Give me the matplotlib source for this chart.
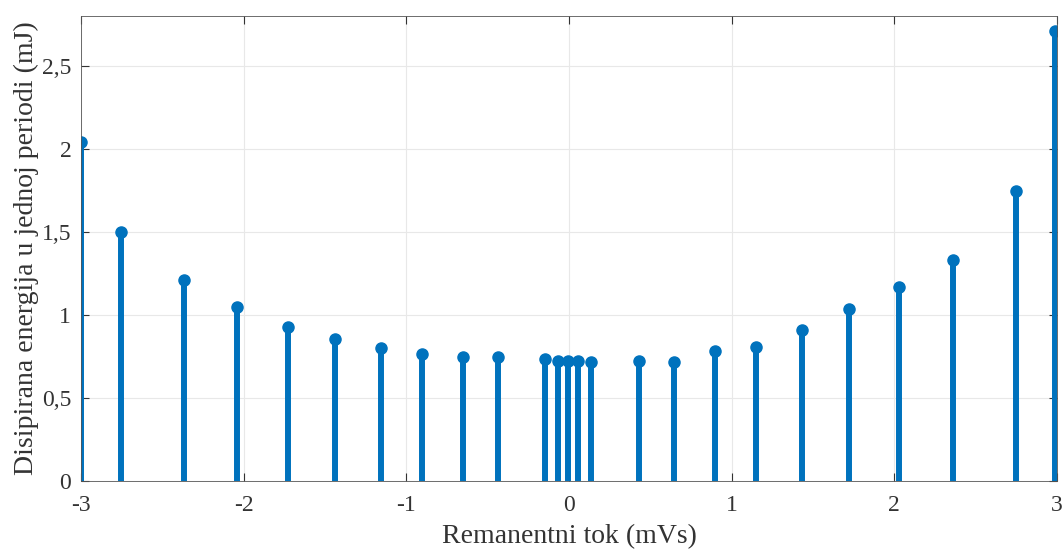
import numpy as np
import matplotlib.pyplot as plt
from matplotlib.ticker import FuncFormatter

# remanent flux (mVs) and dissipated energy per period (mJ)
flux = [-3.0, -2.754, -2.367, -2.04, -1.727, -1.438, -1.155, -0.903, -0.651, -0.436,
        -0.147, -0.068, -0.006, 0.055, 0.135, 0.43, 0.645, 0.897, 1.149, 1.432,
        1.72, 2.03, 2.36, 2.747, 2.99]
energy = [2.04, 1.50, 1.21, 1.05, 0.93, 0.855, 0.80, 0.765, 0.745, 0.745,
          0.735, 0.723, 0.723, 0.723, 0.717, 0.723, 0.717, 0.78, 0.807, 0.91,
          1.036, 1.17, 1.33, 1.747, 2.71]
xticks = [-3, -2, -1, 0, 1, 2, 3]
yticks = [0, 0.5, 1, 1.5, 2, 2.5]

plt.rcParams['font.family'] = ['Liberation Serif', 'DejaVu Serif']
blue = '#0072BD'
txt = '#333333'

fig = plt.figure(figsize=(10.63, 5.5), dpi=100)
ax = fig.add_axes([0.0762, 0.1255, 0.9182, 0.8454])

markers, stems, base = ax.stem(flux, energy, basefmt=' ')
plt.setp(stems, color=blue, linewidth=4.3)
plt.setp(markers, color=blue, markersize=8)

ax.set_xlim(-3, 3)
ax.set_ylim(0, 2.8)
ax.set_xticks(xticks)
ax.set_yticks(yticks)
comma = FuncFormatter(lambda v, p: ('%g' % v).replace('.', ','))
ax.xaxis.set_major_formatter(comma)
ax.yaxis.set_major_formatter(comma)
ax.tick_params(direction='in', top=True, right=True, labelsize=17, colors=txt,
               length=6, width=0.8)
ax.tick_params(axis='x', pad=10)
ax.tick_params(axis='y', pad=7)
for s in ax.spines.values():
    s.set_color('#555555')
    s.set_linewidth(0.6)
ax.grid(True, color='#e8e8e8', linewidth=0.8)
ax.set_axisbelow(True)

ax.set_xlabel('Remanentni tok (mVs)', fontsize=20, color=txt, labelpad=6)
ax.set_ylabel('Disipirana energija u jednoj periodi (mJ)', fontsize=20, color=txt, labelpad=2)

fig.savefig('out.png', dpi=100)
